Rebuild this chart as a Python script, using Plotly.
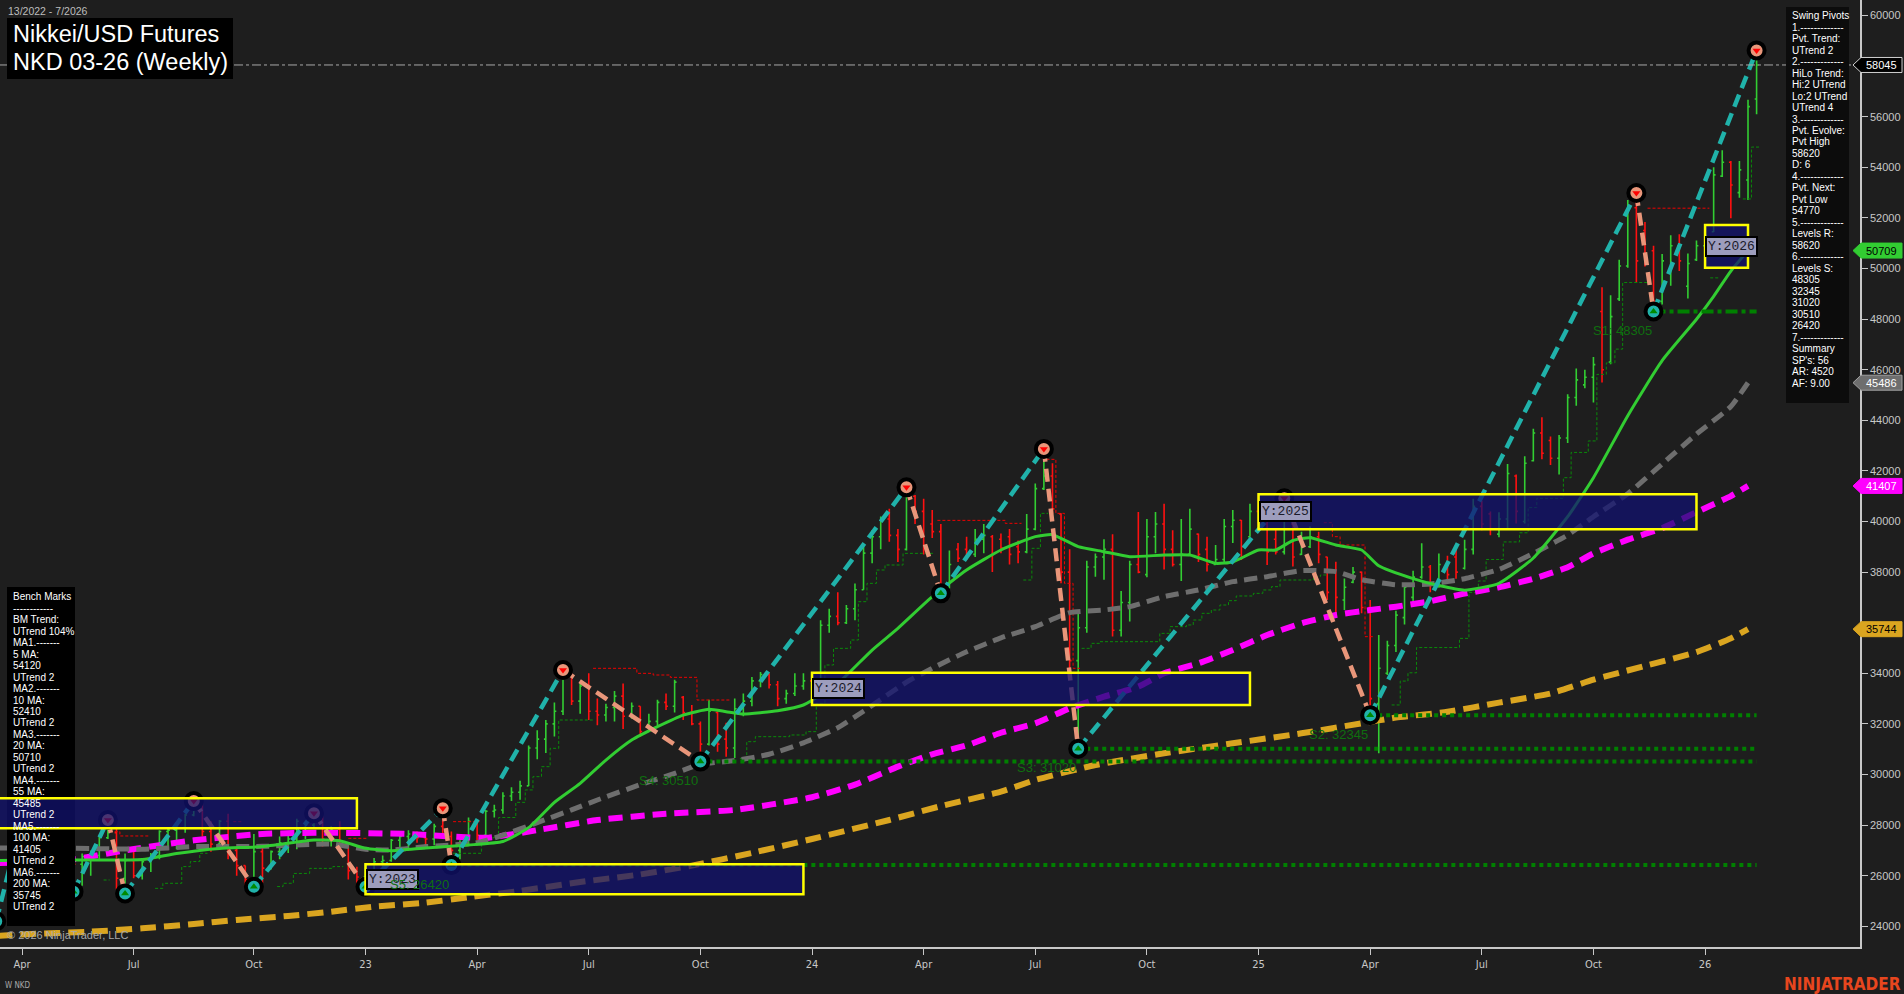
import pandas as pd
import plotly.graph_objects as go

# ---------------- data (weekly bars, Friday time stamps) ----------------
START = pd.Timestamp("2022-04-01")


def wk(i):
    return START + pd.Timedelta(days=7 * i)


opens = [28100, 27700, 27000, 27100, 26950, 26850, 27000, 26450, 26750, 26800,
         27500, 27700, 25900, 26600, 26000, 26550, 26800, 27750, 27800, 27900,
         28400, 28800, 27750, 27250, 28150, 27000, 26400, 25850, 26950, 26300,
         26950, 27300, 27450, 27900, 28000, 28300, 27450, 27850, 27250, 26200,
         25950, 26100, 26550, 26600, 27400, 27550, 27650, 27500, 27450, 27950,
         27550, 27000, 27300, 28150, 27600, 28550, 28600, 29150, 29300, 29550,
         31050, 31400, 32000, 32500, 33900, 32900, 33500, 32500, 32350, 32650,
         33100, 32300, 32700, 31700, 32100, 32850, 32700, 33050, 32450, 32000,
         31200, 32450, 31400, 31050, 32600, 32900, 33700, 33950, 33550, 33000,
         33200, 33500, 33700, 33500, 35900, 36250, 36000, 36550, 37300, 38750,
         39400, 40100, 39450, 38900, 41000, 40400, 39900, 39600, 37400, 38900,
         38900, 38700, 39300, 39400, 39300, 39400, 39000, 38800, 39700, 41300,
         41800, 40300, 38000, 34500, 35800, 38200, 38600, 38900, 35700, 36800,
         38300, 37900, 39400, 39900, 38900, 38300, 38700, 39500, 38900, 38300,
         38500, 39800, 40050, 39400, 40400, 39900, 39300, 38800, 39900, 38700,
         39000, 39400, 38600, 38000, 36900, 37600, 38000, 36600, 32800, 34000,
         35100, 36200, 37000, 37800, 38200, 37500, 38300, 38600, 38150, 38900,
         40600, 40300, 39500, 40100, 41800, 40000, 42400, 43500, 43200, 42500,
         43300, 44900, 45400, 45700, 48300, 46300, 48800, 50100, 52400, 51500,
         50700, 48700, 49900, 50900, 49300, 50350, 50900, 51450, 53650, 54200,
         53000, 53500, 56700]
highs = [28300, 27800, 27300, 27600, 27000, 27100, 27050, 26880, 27000, 27550,
         28150, 27900, 26880, 27000, 26650, 26900, 27800, 27870, 27950, 28450,
         28920, 28850, 28150, 28200, 28450, 27150, 26400, 27650, 27150, 27000,
         27550, 27750, 28250, 28100, 28440, 28350, 27950, 28150, 27300, 26350,
         26450, 26700, 26800, 27450, 27700, 27800, 27750, 27550, 28050, 28640,
         27750, 27400, 28300, 28200, 28600, 28800, 29300, 29500, 29750, 31150,
         31750, 32150, 32850, 34100, 34000, 33600, 34000, 33000, 32800, 33300,
         33600, 32850, 32700, 32400, 32950, 33200, 33750, 33100, 32750, 32100,
         32950, 32500, 32050, 33000, 33200, 33850, 34050, 34000, 33700, 33350,
         34000, 34000, 34020, 36100, 36550, 37200, 36700, 37550, 39000, 39650,
         40200, 40500, 39700, 41300, 41050, 40900, 40450, 39900, 38850, 39150,
         39400, 39700, 39900, 39470, 39530, 39700, 39250, 40300, 41500, 42850,
         42300, 40330, 38900, 36350, 38450, 38740, 39300, 39500, 37250, 38450,
         40380, 40100, 40380, 40700, 39650, 40100, 40500, 39530, 39400, 39070,
         40100, 40450, 40060, 40700, 41070, 40250, 39660, 40880, 39930, 39600,
         39800, 39600, 38610, 38410, 37750, 38200, 38020, 36900, 35510, 35290,
         36470, 37560, 38050, 39140, 38285, 38740, 38650, 39010, 39280, 40900,
         40825, 40400, 40370, 42270, 41860, 42580, 43670, 44120, 43360, 43420,
         45030, 46050, 46000, 46500, 49260, 48940, 50350, 52710, 52960, 51840,
         50900, 50570, 51310, 51350, 50590, 51110, 51720, 54000, 54670, 54250,
         54250, 56670, 58600]
lows = [27500, 26800, 26400, 26600, 26300, 26500, 25400, 25600, 26000, 26650,
        27450, 25450, 25320, 25900, 25850, 26150, 26650, 27150, 27050, 27700,
        28350, 27550, 26950, 27150, 26650, 26000, 25580, 25580, 25700, 26250,
        26650, 26900, 27050, 27450, 27900, 27150, 27150, 26900, 25850, 25600,
        25265, 25850, 25950, 26550, 27100, 27100, 27300, 27150, 27200, 27450,
        26440, 26650, 27200, 27400, 27550, 28300, 28450, 28950, 29000, 29550,
        30600, 30850, 31500, 32350, 32750, 32400, 32150, 31950, 32100, 32100,
        31800, 32200, 31500, 31700, 31950, 32550, 32450, 32150, 31950, 30520,
        31150, 30900, 30700, 30650, 32300, 32700, 33450, 33400, 32700, 32800,
        33100, 33350, 32760, 33300, 35600, 35900, 35950, 36100, 37300, 38350,
        38900, 39200, 38400, 38850, 39900, 38700, 39350, 37180, 37350, 38400,
        38480, 38600, 38750, 38000, 38750, 38300, 38350, 38750, 39650, 41250,
        40300, 37560, 34200, 31040, 35600, 37820, 37700, 35450, 35450, 36050,
        37950, 37800, 38750, 38100, 38220, 37650, 38650, 38400, 38020, 38280,
        38400, 39150, 38480, 39400, 39700, 38280, 38700, 38700, 38220, 38680,
        38950, 38350, 36900, 36370, 36500, 37560, 36370, 32360, 30840, 33930,
        34840, 35930, 36830, 37740, 37200, 37380, 37600, 37740, 38100, 38700,
        39650, 39460, 39380, 39740, 39920, 39920, 42370, 42460, 42230, 41860,
        43100, 44580, 45270, 44700, 45490, 46220, 48720, 50030, 49450, 50080,
        48320, 48575, 49320, 49900, 48810, 50300, 50050, 51440, 53620, 51990,
        52800, 52710, 56100]
closes = [27700, 27000, 27100, 26950, 26850, 27000, 26450, 26750, 26800, 27500,
          27700, 25900, 26600, 26000, 26550, 26800, 27750, 27800, 27900, 28400,
          28800, 27750, 27250, 28150, 27000, 26400, 25850, 26950, 26300, 26950,
          27300, 27450, 28150, 28000, 28300, 27450, 27850, 27250, 26200, 25950,
          26100, 26550, 26600, 27400, 27550, 27650, 27500, 27450, 27950, 27550,
          27000, 27300, 28150, 27600, 28550, 28600, 29150, 29300, 29550, 31050,
          31400, 32000, 32500, 33900, 32900, 33500, 32500, 32350, 32650, 33100,
          32300, 32700, 31700, 32100, 32850, 32700, 33650, 32450, 32000, 31200,
          32500, 31200, 31050, 32600, 32900, 33700, 33950, 33550, 33000, 33200,
          33500, 33700, 33500, 35900, 36250, 36000, 36550, 37300, 38750, 39400,
          40100, 39450, 38900, 41000, 40400, 39000, 39600, 37400, 38300, 38550,
          38700, 39300, 39450, 38700, 38950, 38700, 38800, 39700, 41300, 41800,
          40500, 38000, 34500, 35800, 38200, 38600, 38900, 35700, 36800, 38300,
          38000, 39400, 39900, 38900, 38300, 38700, 39700, 38700, 38300, 38500,
          39800, 40050, 39000, 40400, 39900, 38800, 38800, 40200, 38600, 39000,
          39400, 38700, 37200, 37000, 37400, 38000, 36600, 33000, 34200, 35100,
          36300, 37400, 37800, 38200, 37500, 38300, 37900, 38000, 38900, 40600,
          39900, 39700, 40100, 41900, 40400, 42300, 43500, 42700, 42500, 43300,
          44900, 45600, 45700, 46200, 46000, 48100, 50100, 52400, 50300, 50400,
          48700, 50300, 50900, 50300, 50200, 50900, 51300, 53700, 54200, 53300,
          53900, 56400, 58045]
dates = [wk(i) for i in range(len(closes))]

# moving averages (bar index -> value)
ma20_idx = [-3, 2, 7, 14, 18, 23, 28, 34, 37, 40, 43, 47, 52, 56, 59, 62, 65, 68, 71,
            74, 77, 80, 82, 84, 88, 91, 95, 99, 102, 106, 110, 114, 118, 120, 123, 126,
            129, 133, 136, 139, 141, 144, 146, 148, 150, 153, 156, 158, 162, 165, 168,
            172, 176, 180, 183, 187, 191, 195, 197, 199, 201]
ma20_val = [26600, 26620, 26620, 26640, 26880, 27080, 27150, 27411, 27380, 27082, 26990,
            27100, 27213, 27350, 27900, 28900, 29650, 30570, 31360, 31890, 32350, 32576,
            32484, 32392, 32523, 32747, 33600, 34920, 35778, 37030, 38083, 38874, 39401,
            39480, 39006, 38808, 38610, 38676, 38676, 38347, 38400, 38874, 38874, 39250,
            39361, 39071, 38874, 38250, 37740, 37468, 37286, 37558, 38557, 40190, 41732,
            44183, 46360, 47994, 48900, 49900, 50709]
ma55_idx = [-3, 6, 14, 20, 28, 36, 40, 43, 47, 53, 56, 60, 64, 67, 72, 76, 79, 83, 87,
            91, 95, 98, 103, 106, 110, 114, 118, 122, 126, 129, 133, 137, 141, 145, 149,
            153, 156, 160, 164, 168, 172, 176, 180, 183, 187, 191, 195, 199, 201]
ma55_val = [27100, 27082, 27050, 27148, 27160, 27253, 27043, 27016, 27150, 27300, 27600,
            28100, 28600, 28992, 29600, 30046, 30400, 30550, 30800, 31250, 31850, 32500,
            33650, 34200, 34850, 35400, 35844, 36400, 36502, 36634, 37030, 37293, 37622,
            37820, 38057, 38018, 37700, 37500, 37530, 37740, 38103, 38738, 39464, 40190,
            41097, 42277, 43457, 44546, 45486]
ma100_idx = [-3, 2, 6, 12, 20, 28, 35, 45, 54, 60, 67, 75, 83, 92, 97, 102, 106, 110,
             114, 118, 122, 126, 130, 133, 137, 141, 145, 149, 153, 157, 160, 164, 168,
             172, 176, 180, 183, 187, 191, 195, 199, 201]
ma100_val = [26500, 26550, 26650, 27000, 27400, 27650, 27700, 27650, 27500, 27800, 28200,
             28450, 28600, 29100, 29600, 30310, 30800, 31150, 31650, 32023, 32616, 33077,
             33472, 33999, 34394, 34921, 35514, 35975, 36305, 36502, 36634, 36850, 37150,
             37400, 37740, 38194, 38738, 39283, 39736, 40372, 41007, 41407]
ma200_idx = [-3, 0, 8, 14, 20, 25, 31, 36, 41, 47, 52, 58, 65, 72, 78, 85, 92, 101, 107,
             114, 118, 125, 133, 141, 149, 156, 160, 166, 172, 178, 183, 189, 195, 199, 201]
ma200_val = [23620, 23680, 23788, 23920, 24091, 24250, 24408, 24579, 24777, 24935, 25146,
             25400, 25750, 26050, 26400, 26900, 27450, 28202, 28750, 29320, 29783, 30376,
             30837, 31232, 31628, 32023, 32250, 32477, 32840, 33203, 33747, 34292, 34836,
             35381, 35744]

# swing pivots (bar index, price, H/L)
pivot_idx = [-3, 0, 6, 10, 12, 20, 27, 34, 40, 49, 50, 63, 79, 103, 107, 119, 123, 147,
             157, 188, 190, 202]
pivot_val = [24200, 28300, 25370, 28200, 25300, 28950, 25560, 28466, 25560, 28663, 26420,
             34130, 30510, 41350, 37160, 42870, 31020, 40917, 32345, 52985, 48305, 58620]
pivot_kind = ["L", "H", "L", "H", "L", "H", "L", "H", "L", "H", "L", "H", "L", "H", "L",
              "H", "L", "H", "L", "H", "L", "H"]

# support levels
support_names = ["S5", "S4", "S3", "S2", "S1"]
support_idx = [50, 79, 123, 157, 190]
support_val = [26420, 30510, 31020, 32345, 48305]

# trailing step lines (bar index, level); None separates segments
green_step_idx = [9.5, 10.2, None,
                  15.5, 16.4, 18.6, 19.6, 20.7, 21.6, None,
                  29.7, 30.4, 31.6, 33.5, 36.2, 37.4, None,
                  50.2, 53.5, 55.5, 57.5, 58.6, 59.5, 60.5, 61.5, 62.5, 66.5, None,
                  83.6, 84.4, 85.4, 89.4, 91.3, 92.5, 93.5, 94.5, 96.5, 97.4, 98.4, 99.5,
                  100.5, 102.6, 106.1, None,
                  116.6, 117.6, 118.6, 119.5, None,
                  123.4, 124.5, 125.5, 132.5, 133.7, 135.6, 136.4, 137.4, 138.5, 139.5,
                  140.5, 141.4, 143.4, 144.5, 145.5, 146.5, 150.4, 151.2, 152.0, None,
                  159.5, 160.5, 161.4, 162.4, 167.4, 168.5, 169.6, 170.5, 172.5, 174.4,
                  175.4, 176.4, 179.5, 180.4, 182.4, 183.4, 184.5, 185.5, 186.4, 189.7, None,
                  196.6, 197.6, None,
                  200.4, 201.4, 202.4]
green_step_val = [25830, 25830, None,
                  25500, 25700, 26360, 26560, 26885, 26885, None,
                  25570, 25700, 26090, 26290, 26360, 26360, None,
                  26885, 27500, 28300, 28900, 29390, 29915, 30310, 31035, 32154, 32154, None,
                  30640, 31298, 31496, 31562, 31694, 32813, 34328, 34987, 35317, 36832,
                  37556, 38083, 38281, 38742, 38742, None,
                  37688, 38940, 40323, 40323, None,
                  34987, 35185, 35250, 35580, 35844, 35910, 36107, 36371, 36502, 36700,
                  36871, 37056, 37161, 37293, 37424, 37688, 37820, 37886, 37886, None,
                  32749, 33693, 34020, 35018, 35381, 37196, 37649, 38500, 39192, 39554,
                  40553, 40916, 41732, 42731, 43184, 45816, 46270, 46814, 49446, 49446, None,
                  49630, 49630, None,
                  52750, 54800, 54800]
red_step_idx = [10.2, 11.4, 14.9, None,
                24.6, 25.6, None,
                38.0, 40.1, None,
                50.2, 53.3, None,
                66.5, 71.6, 73.5, 75.5, 78.6, 82.5, None,
                106.6, 114.5, 116.4, None,
                119.3, 120.4, 121.4, 122.4, 123.2, None,
                151.6, 152.6, 153.5, 156.4, 157.4, None,
                189.3, 196.5]
red_step_val = [27741, 27570, 27570, None,
                28136, 28136, None,
                27477, 27477, None,
                28136, 28136, None,
                34197, 33999, 33933, 33841, 32945, 32945, None,
                40045, 39928, 39928, None,
                42457, 40323, 37556, 34197, 34197, None,
                39954, 39401, 39071, 35448, 35448, None,
                52384, 52384]

# yearly opening-range boxes
box_years = [2022, 2023, 2024, 2025, 2026]
box_start = [-12, 40, 92, 144, 196]
box_end = [39, 91, 143, 195, 201]
box_lo = [27873, 25265, 32747, 39692, 50032]
box_hi = [29058, 26450, 34024, 41075, 51719]

swing_lines = ["Swing Pivots", "1.-------------", "Pvt. Trend:", "UTrend 2",
               "2.-------------", "HiLo Trend:", "Hi:2 UTrend", "Lo:2 UTrend", "UTrend 4",
               "3.-------------", "Pvt. Evolve:", "Pvt High", "58620", "D: 6",
               "4.-------------", "Pvt. Next:", "Pvt Low", "54770", "5.-------------",
               "Levels R:", "58620", "6.-------------", "Levels S:", "48305", "32345",
               "31020", "30510", "26420", "7.-------------", "Summary", "SP's: 56",
               "AR: 4520", "AF: 9.00"]
bench_lines = ["Bench Marks", "------------", "BM Trend:", "UTrend 104%", "MA1.-------",
               "5 MA:", "54120", "UTrend 2", "MA2.-------", "10 MA:", "52410", "UTrend 2",
               "MA3.-------", "20 MA:", "50710", "UTrend 2", "MA4.-------", "55 MA:",
               "45485", "UTrend 2", "MA5.-------", "100 MA:", "41405", "UTrend 2",
               "MA6.-------", "200 MA:", "35745", "UTrend 2"]

# ---------------- layout constants ----------------
W, H = 1904, 994
PLOT_W, PLOT_H = 1860, 947
Y_MIN, Y_MAX = 23182, 60613
X_RANGE = ["2022-03-14 01:12", "2026-05-08 07:12"]
BG = "#1e1e1e"
SANS = "Liberation Sans, Arial, sans-serif"
NARROW = "Liberation Sans Narrow, DejaVu Sans Condensed, Liberation Sans, sans-serif"


def px(x):
    return x / PLOT_W


def py(y):
    return 1 - y / PLOT_H


def vy(v):
    return (v - Y_MIN) / (Y_MAX - Y_MIN)


def idx_dates(seq):
    return [None if i is None else wk(i) for i in seq]


fig = go.Figure()

# trailing step lines
fig.add_trace(go.Scatter(x=idx_dates(green_step_idx), y=green_step_val, mode="lines",
                         line=dict(color="#0a8a0a", width=1, dash="3px,2px", shape="hv"),
                         connectgaps=False, hoverinfo="skip"))
fig.add_trace(go.Scatter(x=idx_dates(red_step_idx), y=red_step_val, mode="lines",
                         line=dict(color="#ee0000", width=1, dash="3px,2px", shape="hv"),
                         connectgaps=False, hoverinfo="skip"))

# price bars
fig.add_trace(go.Ohlc(x=dates, open=opens, high=highs, low=lows, close=closes,
                      increasing=dict(line=dict(color="#32cd32", width=1.6)),
                      decreasing=dict(line=dict(color="#ff1010", width=1.6)),
                      tickwidth=0.22, hoverinfo="skip"))

# moving averages
fig.add_trace(go.Scatter(x=idx_dates(ma200_idx), y=ma200_val, mode="lines",
                         line=dict(color="#daa520", width=6, dash="16px,8px",
                                   shape="spline", smoothing=0.5), hoverinfo="skip"))
fig.add_trace(go.Scatter(x=idx_dates(ma100_idx), y=ma100_val, mode="lines",
                         line=dict(color="#ff00ff", width=6, dash="14px,8px",
                                   shape="spline", smoothing=0.5), hoverinfo="skip"))
fig.add_trace(go.Scatter(x=idx_dates(ma55_idx), y=ma55_val, mode="lines",
                         line=dict(color="#6e6e6e", width=5, dash="13px,7px",
                                   shape="spline", smoothing=0.5), hoverinfo="skip"))
fig.add_trace(go.Scatter(x=idx_dates(ma20_idx), y=ma20_val, mode="lines",
                         line=dict(color="#32cd32", width=3, shape="spline", smoothing=0.5),
                         hoverinfo="skip"))

# support lines
last_i = len(closes) - 1
for name, si, sv in zip(support_names, support_idx, support_val):
    dash = "12px,4px,4px,4px" if name == "S1" else "4px,4px"
    fig.add_trace(go.Scatter(x=[wk(si), wk(last_i)], y=[sv, sv], mode="lines",
                             line=dict(color="#008000", width=4, dash=dash),
                             hoverinfo="skip"))

# swing zig-zag
up_x, up_y, dn_x, dn_y = [], [], [], []
for k in range(len(pivot_idx) - 1):
    seg_x = [wk(pivot_idx[k]), wk(pivot_idx[k + 1]), None]
    seg_y = [pivot_val[k], pivot_val[k + 1], None]
    if pivot_kind[k] == "L":
        up_x += seg_x
        up_y += seg_y
    else:
        dn_x += seg_x
        dn_y += seg_y
fig.add_trace(go.Scatter(x=up_x, y=up_y, mode="lines",
                         line=dict(color="#20b2aa", width=4.5, dash="13px,7px"),
                         hoverinfo="skip"))
fig.add_trace(go.Scatter(x=dn_x, y=dn_y, mode="lines",
                         line=dict(color="#e9967a", width=4.5, dash="13px,7px"),
                         hoverinfo="skip"))

hi_x = [wk(i) for i, k in zip(pivot_idx, pivot_kind) if k == "H"]
hi_y = [v for v, k in zip(pivot_val, pivot_kind) if k == "H"]
lo_x = [wk(i) for i, k in zip(pivot_idx, pivot_kind) if k == "L"]
lo_y = [v for v, k in zip(pivot_val, pivot_kind) if k == "L"]
fig.add_trace(go.Scatter(x=hi_x, y=hi_y, mode="markers",
                         marker=dict(size=16, color="#e9967a",
                                     line=dict(color="#000000", width=4)),
                         hoverinfo="skip"))
fig.add_trace(go.Scatter(x=hi_x, y=hi_y, mode="markers",
                         marker=dict(size=7, color="#ff0000", symbol="triangle-down",
                                     line=dict(width=0)),
                         hoverinfo="skip"))
fig.add_trace(go.Scatter(x=lo_x, y=lo_y, mode="markers",
                         marker=dict(size=16, color="#20b2aa",
                                     line=dict(color="#000000", width=4)),
                         hoverinfo="skip"))
fig.add_trace(go.Scatter(x=lo_x, y=lo_y, mode="markers",
                         marker=dict(size=7, color="#008a00", symbol="triangle-up",
                                     line=dict(width=0)),
                         hoverinfo="skip"))

shapes = []
annotations = []

# last price dash-dot line
shapes.append(dict(type="line", xref="paper", yref="y", x0=0, x1=1,
                   y0=closes[-1], y1=closes[-1], layer="above",
                   line=dict(color="#a8a8a8", width=1, dash="dashdot")))

# panels
shapes.append(dict(type="rect", xref="paper", yref="paper", x0=px(7), x1=px(75),
                   y0=py(926), y1=py(587), fillcolor="#000000", line=dict(width=0),
                   layer="above"))
shapes.append(dict(type="rect", xref="paper", yref="paper", x0=px(1786), x1=px(1849),
                   y0=py(403), y1=py(7), fillcolor="#0c0c0c", line=dict(width=0),
                   layer="above"))
shapes.append(dict(type="rect", xref="paper", yref="paper", x0=px(7), x1=px(233),
                   y0=py(79), y1=py(18), fillcolor="#000000", line=dict(width=0),
                   layer="above"))

# yearly boxes
for yr, b0, b1, lo, hi in zip(box_years, box_start, box_end, box_lo, box_hi):
    shapes.append(dict(type="rect", xref="x", yref="y", x0=wk(b0), x1=wk(b1),
                       y0=lo, y1=hi, fillcolor="rgba(18,18,112,0.74)",
                       line=dict(color="#ffff00", width=2.5), layer="above"))
    if b0 >= 0:
        annotations.append(dict(x=wk(b0), y=(lo + hi) / 2, xref="x", yref="y",
                                xanchor="left", yanchor="middle", showarrow=False,
                                text="Y:%d" % yr, bgcolor="#9d9dbd",
                                bordercolor="#000000", borderwidth=2, borderpad=1,
                                font=dict(family="Liberation Mono, monospace", size=13,
                                          color="#1a1a2a")))

# support labels
for name, si, sv in zip(support_names, support_idx, support_val):
    annotations.append(dict(x=wk(si), y=sv, xref="x", yref="y", xanchor="right",
                            yanchor="middle", yshift=-19, showarrow=False,
                            text="%s: %d" % (name, sv),
                            font=dict(family=SANS, size=13, color="#0f6f0f")))

# right-hand price tags
tag_vals = [closes[-1], ma20_val[-1], ma55_val[-1], ma100_val[-1], ma200_val[-1]]
tag_fill = ["#000000", "#32cd32", "#6e6e6e", "#ff00ff", "#daa520"]
tag_line = ["#d0d0d0", "#32cd32", "#a0a0a0", "#ff00ff", "#daa520"]
tag_text = ["#ffffff", "#000000", "#ffffff", "#ffffff", "#000000"]
half = 7.5 / PLOT_H
for v, fc, lc, tc in zip(tag_vals, tag_fill, tag_line, tag_text):
    yc = vy(v)
    path = "M %f %f L %f %f L %f %f L %f %f L %f %f Z" % (
        px(1853), yc, px(1861), yc + half, px(1902), yc + half,
        px(1902), yc - half, px(1861), yc - half)
    shapes.append(dict(type="path", xref="paper", yref="paper", path=path,
                       fillcolor=fc, line=dict(color=lc, width=1), layer="above"))
    annotations.append(dict(x=px(1882), y=yc, xref="paper", yref="paper",
                            xanchor="center", yanchor="middle", showarrow=False,
                            text=str(int(round(v))),
                            font=dict(family=SANS, size=11, color=tc)))

# panel texts
for k, t in enumerate(swing_lines):
    annotations.append(dict(x=px(1789.5), y=py(15.7 + k * 11.48), xref="paper",
                            yref="paper", xanchor="left", yanchor="middle",
                            showarrow=False, text=t,
                            font=dict(family=SANS, size=10, color="#ffffff")))
for k, t in enumerate(bench_lines):
    annotations.append(dict(x=px(10.5), y=py(596.7 + k * 11.48), xref="paper",
                            yref="paper", xanchor="left", yanchor="middle",
                            showarrow=False, text=t,
                            font=dict(family=SANS, size=10, color="#ffffff")))

# titles and credits
annotations.append(dict(x=px(6), y=py(10.5), xref="paper", yref="paper",
                        xanchor="left", yanchor="middle", showarrow=False,
                        text="13/2022 - 7/2026",
                        font=dict(family=SANS, size=10.5, color="#bdbdbd")))
annotations.append(dict(x=px(10.5), y=py(34), xref="paper", yref="paper",
                        xanchor="left", yanchor="middle", showarrow=False,
                        text="Nikkei/USD Futures",
                        font=dict(family=SANS, size=23.5, color="#ffffff")))
annotations.append(dict(x=px(10.5), y=py(62.5), xref="paper", yref="paper",
                        xanchor="left", yanchor="middle", showarrow=False,
                        text="NKD 03-26 (Weekly)",
                        font=dict(family=SANS, size=23.5, color="#ffffff")))
annotations.append(dict(x=px(4.5), y=py(935), xref="paper", yref="paper",
                        xanchor="left", yanchor="middle", showarrow=False,
                        text="© 2026 NinjaTrader, LLC",
                        font=dict(family=SANS, size=11, color="#a8a8a8")))
annotations.append(dict(x=px(3), y=py(985), xref="paper", yref="paper",
                        xanchor="left", yanchor="middle", showarrow=False,
                        text="W NKD", font=dict(family=NARROW, size=8, color="#a8a8a8")))
annotations.append(dict(x=px(1903), y=py(984), xref="paper", yref="paper",
                        xanchor="right", yanchor="middle", showarrow=False,
                        text="<b>NINJATRADER</b>",
                        font=dict(family=NARROW, size=17, color="#e8461e")))

# x ticks: first bar of each quarter month
tick_vals, tick_text = [], []
for i, d in enumerate(dates):
    if d.month in (1, 4, 7, 10) and (i == 0 or dates[i - 1].month != d.month):
        tick_vals.append(d)
        tick_text.append(d.strftime("%y") if d.month == 1 else d.strftime("%b"))

# y ticks: labels hidden where a price tag sits on them (as in the reference)
y_ticks = list(range(24000, 60001, 2000))
y_tick_text = ["" if min(abs(t - v) for v in tag_vals) < 300 else str(t)
               for t in y_ticks]

fig.update_layout(
    width=W, height=H, autosize=False,
    margin=dict(l=0, r=W - PLOT_W, t=0, b=H - PLOT_H, pad=0),
    paper_bgcolor=BG, plot_bgcolor=BG, showlegend=False, hovermode=False,
    shapes=shapes, annotations=annotations,
    xaxis=dict(type="date", range=X_RANGE, showgrid=False, zeroline=False,
               rangeslider=dict(visible=False), showline=True, linecolor="#c8c8c8",
               linewidth=1.5, ticks="outside", ticklen=6, tickcolor="#c8c8c8",
               tickvals=tick_vals, ticktext=tick_text,
               tickfont=dict(family=NARROW, size=11, color="#c8c8c8"), fixedrange=True),
    yaxis=dict(range=[Y_MIN, Y_MAX], side="right", showgrid=False, zeroline=False,
               showline=True, linecolor="#c8c8c8", linewidth=1.5, ticks="outside",
               ticklen=6, tickcolor="#c8c8c8", tickvals=y_ticks,
               ticktext=y_tick_text,
               tickfont=dict(family=SANS, size=11, color="#c8c8c8"), fixedrange=True),
)

fig.write_html(
    "out.html",
    config={"displayModeBar": False},
    post_script="document.body.style.margin='0';document.body.style.overflow='hidden';"
                "document.body.style.background='%s';" % BG,
)
